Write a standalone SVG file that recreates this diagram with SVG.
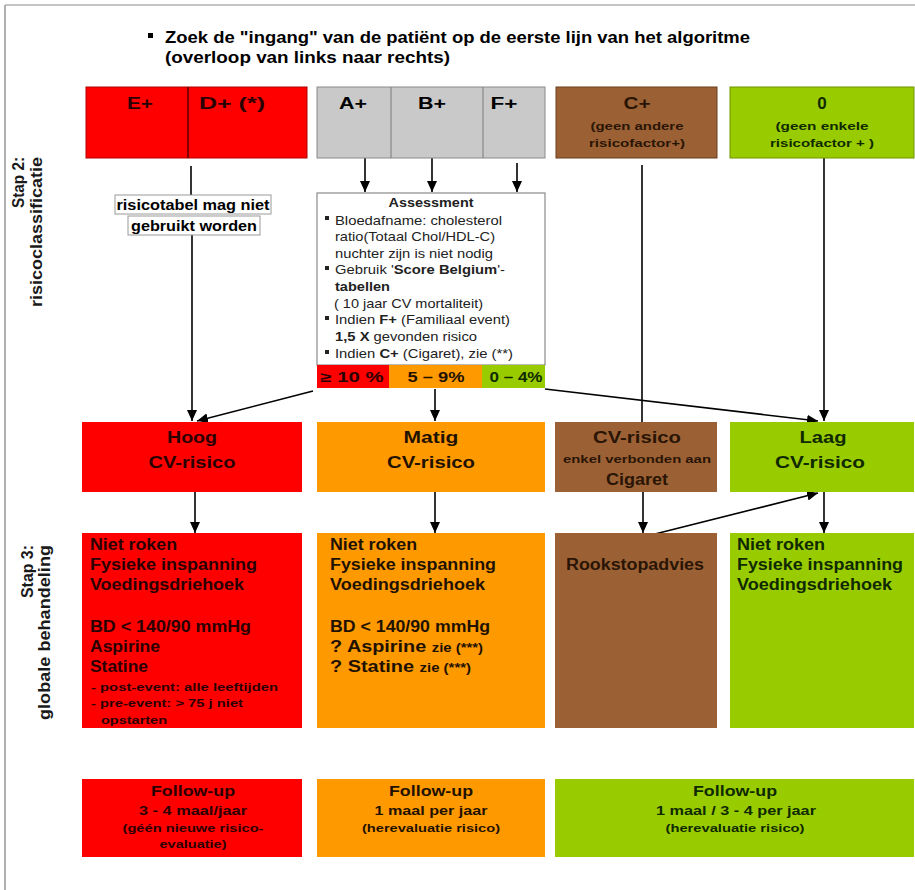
<svg xmlns="http://www.w3.org/2000/svg" width="915" height="890" viewBox="0 0 915 890">
<defs>
<marker id="ah" markerUnits="userSpaceOnUse" markerWidth="11" markerHeight="10" refX="11" refY="5" orient="auto">
<path d="M0,0 L11,5 L0,10 z" fill="#000"/>
</marker>
<style>
text{font-family:"Liberation Sans",Arial,sans-serif;}
.b{font-weight:bold;}
.c{text-anchor:middle;}
.con line{stroke:#000;stroke-width:1.6;fill:none;}
.arr{marker-end:url(#ah);}
.tr{fill:#2b0000;}
.to{fill:#1f1200;}
.tb{fill:#2a1505;}
.tg{fill:#0f2a00;}
.lab{font-size:17px;fill:#1a1a1a;font-weight:bold;}
</style>
</defs>
<rect width="915" height="890" fill="#fff"/>
<!-- frame -->
<line x1="5" y1="5" x2="915" y2="5" stroke="#b0b0b0" stroke-width="1.5"/>
<line x1="5" y1="5" x2="5" y2="890" stroke="#b0b0b0" stroke-width="2"/>

<!-- header -->
<g id="header">
<rect x="148" y="33" width="5" height="5" fill="#000"/>
<text x="165" y="43" class="b" font-size="16" textLength="585" lengthAdjust="spacingAndGlyphs">Zoek de "ingang" van de patiënt op de eerste lijn van het algoritme</text>
<text x="165" y="63" class="b" font-size="16" textLength="285" lengthAdjust="spacingAndGlyphs">(overloop van links naar rechts)</text>
</g>

<!-- side labels -->
<g id="label-stap2">
<text class="lab" text-anchor="end" transform="translate(24,157) rotate(-90)" textLength="51" lengthAdjust="spacingAndGlyphs">Stap 2:</text>
<text class="lab" text-anchor="end" transform="translate(42,157) rotate(-90)" textLength="150" lengthAdjust="spacingAndGlyphs">risicoclassificatie</text>
</g>
<g id="label-stap3">
<text class="lab" text-anchor="end" transform="translate(33,545) rotate(-90)" textLength="53" lengthAdjust="spacingAndGlyphs">Stap 3:</text>
<text class="lab" text-anchor="end" transform="translate(50,545) rotate(-90)" textLength="175" lengthAdjust="spacingAndGlyphs">globale behandeling</text>
</g>

<!-- connectors -->
<g id="connectors" class="con">
<line x1="191" y1="166" x2="191" y2="195"/>
<line class="arr" x1="192" y1="235" x2="192" y2="421"/>
<line class="arr" x1="365" y1="157" x2="365" y2="192"/>
<line class="arr" x1="432" y1="157" x2="432" y2="192"/>
<line class="arr" x1="517" y1="163" x2="517" y2="192"/>
<line x1="642" y1="165" x2="642" y2="422" stroke-width="1.3"/>
<line class="arr" x1="824" y1="156" x2="824" y2="421"/>
<line class="arr" x1="313" y1="391" x2="197" y2="421"/>
<line class="arr" x1="435" y1="389" x2="435" y2="421"/>
<line class="arr" x1="545" y1="389" x2="818" y2="421"/>
<line class="arr" x1="195" y1="492" x2="195" y2="533"/>
<line class="arr" x1="435" y1="492" x2="435" y2="533"/>
<line class="arr" x1="643" y1="492" x2="643" y2="533"/>
<line class="arr" x1="824" y1="492" x2="824" y2="533"/>
<line class="arr" x1="647" y1="536" x2="818" y2="493"/>
</g>

<!-- top row -->
<g id="node-ed">
<rect x="86" y="87" width="221" height="71" fill="#fe0000" stroke="#b00000" stroke-width="1"/>
<line x1="188" y1="87" x2="188" y2="158" stroke="#300" stroke-width="1.2"/>
<text x="140" y="109" class="b c tr" font-size="16" textLength="26" lengthAdjust="spacingAndGlyphs">E+</text>
<text x="232" y="109" class="b c tr" font-size="16" textLength="66" lengthAdjust="spacingAndGlyphs">D+ (*)</text>
</g>
<g id="node-abf">
<rect x="317" y="87" width="228" height="71" fill="#c9c9c9" stroke="#8a8a8a" stroke-width="1"/>
<line x1="391" y1="87" x2="391" y2="158" stroke="#7a7a7a" stroke-width="1"/>
<line x1="483" y1="87" x2="483" y2="158" stroke="#7a7a7a" stroke-width="1"/>
<text x="353" y="109" class="b c" font-size="16" textLength="28" lengthAdjust="spacingAndGlyphs">A+</text>
<text x="432" y="109" class="b c" font-size="16" textLength="28" lengthAdjust="spacingAndGlyphs">B+</text>
<text x="504" y="109" class="b c" font-size="16" textLength="27" lengthAdjust="spacingAndGlyphs">F+</text>
</g>
<g id="node-c">
<rect x="556" y="87" width="161" height="71" fill="#9b6135" stroke="#6b3f1e" stroke-width="1"/>
<text x="637" y="109" class="b c tb" font-size="16" textLength="27" lengthAdjust="spacingAndGlyphs">C+</text>
<text x="637" y="130" class="b c tb" font-size="11" textLength="93" lengthAdjust="spacingAndGlyphs">(geen andere</text>
<text x="637" y="147" class="b c tb" font-size="11" textLength="96" lengthAdjust="spacingAndGlyphs">risicofactor+)</text>
</g>
<g id="node-0">
<rect x="730" y="87" width="184" height="71" fill="#99cc00" stroke="#6f9400" stroke-width="1"/>
<text x="822" y="109" class="b c tg" font-size="17">0</text>
<text x="822" y="130" class="b c tg" font-size="11" textLength="93" lengthAdjust="spacingAndGlyphs">(geen enkele</text>
<text x="822" y="147" class="b c tg" font-size="11" textLength="104" lengthAdjust="spacingAndGlyphs">risicofactor + )</text>
</g>

<!-- label -->
<g id="node-risicotabel">
<rect x="115" y="195" width="156" height="19" fill="#fff" stroke="#999" stroke-width="1"/>
<rect x="128" y="216" width="132" height="19" fill="#fff" stroke="#999" stroke-width="1"/>
<text x="193" y="210" class="b c" font-size="14" textLength="153" lengthAdjust="spacingAndGlyphs">risicotabel mag niet</text>
<text x="194" y="231" class="b c" font-size="14" textLength="126" lengthAdjust="spacingAndGlyphs">gebruikt worden</text>
</g>

<!-- assessment -->
<g id="node-assessment">
<rect x="317" y="193" width="228" height="172" fill="#fff" stroke="#8a8a8a" stroke-width="1.2"/>
<text x="431" y="207" class="b c" font-size="13.5" textLength="85" lengthAdjust="spacingAndGlyphs" fill="#222">Assessment</text>
<g fill="#222" font-size="13">
<rect x="325" y="216" width="4" height="4"/>
<text x="335" y="225" textLength="167" lengthAdjust="spacingAndGlyphs">Bloedafname: cholesterol</text>
<text x="335" y="241" textLength="160" lengthAdjust="spacingAndGlyphs">ratio(Totaal Chol/HDL-C)</text>
<text x="335" y="258" textLength="158" lengthAdjust="spacingAndGlyphs">nuchter zijn is niet nodig</text>
<rect x="325" y="266" width="4" height="4"/>
<text x="335" y="274" textLength="170" lengthAdjust="spacingAndGlyphs">Gebruik '<tspan class="b">Score Belgium</tspan>'-</text>
<text x="335" y="291" class="b" textLength="55" lengthAdjust="spacingAndGlyphs">tabellen</text>
<text x="334" y="308" textLength="149" lengthAdjust="spacingAndGlyphs">( 10 jaar CV mortaliteit)</text>
<rect x="325" y="316" width="4" height="4"/>
<text x="335" y="324" textLength="175" lengthAdjust="spacingAndGlyphs">Indien <tspan class="b">F+</tspan> (Familiaal event)</text>
<text x="335" y="341" textLength="142" lengthAdjust="spacingAndGlyphs"><tspan class="b">1,5 X</tspan> gevonden risico</text>
<rect x="325" y="350" width="4" height="4"/>
<text x="335" y="358" textLength="178" lengthAdjust="spacingAndGlyphs">Indien <tspan class="b">C+</tspan> (Cigaret), zie (**)</text>
</g>
<rect x="317" y="365" width="72" height="23" fill="#fe0000"/>
<rect x="389" y="365" width="93" height="23" fill="#ff9900"/>
<rect x="482" y="365" width="63" height="23" fill="#99cc00"/>
<text x="352" y="382" class="b c tr" font-size="14" textLength="63" lengthAdjust="spacingAndGlyphs">≥ 10 %</text>
<text x="436" y="382" class="b c to" font-size="14" textLength="57" lengthAdjust="spacingAndGlyphs">5 – 9%</text>
<text x="516" y="382" class="b c tg" font-size="14" textLength="53" lengthAdjust="spacingAndGlyphs">0 – 4%</text>
</g>

<!-- risk row -->
<g id="node-hoog">
<rect x="82" y="422" width="220" height="70" fill="#fe0000"/>
<text x="192" y="443" class="b c tr" font-size="16" textLength="50" lengthAdjust="spacingAndGlyphs">Hoog</text>
<text x="192" y="468" class="b c tr" font-size="16" textLength="87" lengthAdjust="spacingAndGlyphs">CV-risico</text>
</g>
<g id="node-matig">
<rect x="317" y="422" width="228" height="70" fill="#ff9900"/>
<text x="431" y="443" class="b c to" font-size="16" textLength="55" lengthAdjust="spacingAndGlyphs">Matig</text>
<text x="431" y="468" class="b c to" font-size="16" textLength="88" lengthAdjust="spacingAndGlyphs">CV-risico</text>
</g>
<g id="node-cigaret">
<rect x="555" y="422" width="162" height="70" fill="#9b6135"/>
<text x="637" y="443" class="b c tb" font-size="16" textLength="88" lengthAdjust="spacingAndGlyphs">CV-risico</text>
<text x="637" y="463" class="b c tb" font-size="11" textLength="148" lengthAdjust="spacingAndGlyphs">enkel verbonden aan</text>
<text x="637" y="485" class="b c tb" font-size="16" textLength="62" lengthAdjust="spacingAndGlyphs">Cigaret</text>
</g>
<g id="node-laag">
<rect x="730" y="422" width="184" height="70" fill="#99cc00"/>
<text x="823" y="443" class="b c tg" font-size="16" textLength="47" lengthAdjust="spacingAndGlyphs">Laag</text>
<text x="820" y="468" class="b c tg" font-size="16" textLength="90" lengthAdjust="spacingAndGlyphs">CV-risico</text>
</g>

<!-- treatment row -->
<g id="node-beh-hoog">
<rect x="82" y="533" width="220" height="195" fill="#fe0000"/>
<g class="b tr" font-size="16">
<text x="90" y="550" textLength="87" lengthAdjust="spacingAndGlyphs">Niet roken</text>
<text x="90" y="570" textLength="167" lengthAdjust="spacingAndGlyphs">Fysieke inspanning</text>
<text x="90" y="590" textLength="154" lengthAdjust="spacingAndGlyphs">Voedingsdriehoek</text>
<text x="90" y="632" textLength="161" lengthAdjust="spacingAndGlyphs">BD &lt; 140/90 mmHg</text>
<text x="90" y="652" textLength="70" lengthAdjust="spacingAndGlyphs">Aspirine</text>
<text x="90" y="672" textLength="58" lengthAdjust="spacingAndGlyphs">Statine</text>
<text x="91" y="691" font-size="11" textLength="187" lengthAdjust="spacingAndGlyphs">-  post-event: alle leeftijden</text>
<text x="91" y="707" font-size="11" textLength="152" lengthAdjust="spacingAndGlyphs">-  pre-event: &gt; 75 j niet</text>
<text x="101" y="724" font-size="11" textLength="66" lengthAdjust="spacingAndGlyphs">opstarten</text>
</g>
</g>
<g id="node-beh-matig">
<rect x="317" y="533" width="228" height="195" fill="#ff9900"/>
<g class="b to" font-size="16">
<text x="330" y="550" textLength="87" lengthAdjust="spacingAndGlyphs">Niet roken</text>
<text x="330" y="570" textLength="166" lengthAdjust="spacingAndGlyphs">Fysieke inspanning</text>
<text x="330" y="590" textLength="155" lengthAdjust="spacingAndGlyphs">Voedingsdriehoek</text>
<text x="330" y="632" textLength="160" lengthAdjust="spacingAndGlyphs">BD &lt; 140/90 mmHg</text>
<text x="330" y="652" textLength="153" lengthAdjust="spacingAndGlyphs">? Aspirine <tspan font-size="12">zie (***)</tspan></text>
<text x="330" y="672" textLength="141" lengthAdjust="spacingAndGlyphs">? Statine <tspan font-size="12">zie (***)</tspan></text>
</g>
</g>
<g id="node-beh-cigaret">
<rect x="555" y="533" width="162" height="195" fill="#9b6135"/>
<text x="566" y="570" class="b tb" font-size="16" textLength="138" lengthAdjust="spacingAndGlyphs">Rookstopadvies</text>
</g>
<g id="node-beh-laag">
<rect x="730" y="533" width="184" height="195" fill="#99cc00"/>
<g class="b tg" font-size="16">
<text x="737" y="550" textLength="88" lengthAdjust="spacingAndGlyphs">Niet roken</text>
<text x="737" y="570" textLength="166" lengthAdjust="spacingAndGlyphs">Fysieke inspanning</text>
<text x="737" y="590" textLength="155" lengthAdjust="spacingAndGlyphs">Voedingsdriehoek</text>
</g>
</g>

<!-- follow-up row -->
<g id="node-fu-hoog">
<rect x="82" y="779" width="220" height="78" fill="#fe0000"/>
<text x="193" y="796" class="b c tr" font-size="15" textLength="84" lengthAdjust="spacingAndGlyphs">Follow-up</text>
<text x="193" y="815" class="b c tr" font-size="12.5" textLength="108" lengthAdjust="spacingAndGlyphs">3 - 4 maal/jaar</text>
<text x="193" y="832" class="b c tr" font-size="11.5" textLength="141" lengthAdjust="spacingAndGlyphs">(géén nieuwe risico-</text>
<text x="193" y="848" class="b c tr" font-size="11.5" textLength="67" lengthAdjust="spacingAndGlyphs">evaluatie)</text>
</g>
<g id="node-fu-matig">
<rect x="317" y="779" width="228" height="78" fill="#ff9900"/>
<text x="431" y="796" class="b c to" font-size="15" textLength="84" lengthAdjust="spacingAndGlyphs">Follow-up</text>
<text x="431" y="815" class="b c to" font-size="12.5" textLength="113" lengthAdjust="spacingAndGlyphs">1 maal per jaar</text>
<text x="431" y="832" class="b c to" font-size="11.5" textLength="138" lengthAdjust="spacingAndGlyphs">(herevaluatie risico)</text>
</g>
<g id="node-fu-laag">
<rect x="555" y="779" width="359" height="78" fill="#99cc00"/>
<text x="735" y="796" class="b c tg" font-size="15" textLength="84" lengthAdjust="spacingAndGlyphs">Follow-up</text>
<text x="736" y="815" class="b c tg" font-size="12.5" textLength="160" lengthAdjust="spacingAndGlyphs">1 maal / 3 - 4 per jaar</text>
<text x="735" y="832" class="b c tg" font-size="11.5" textLength="139" lengthAdjust="spacingAndGlyphs">(herevaluatie risico)</text>
</g>
</svg>
